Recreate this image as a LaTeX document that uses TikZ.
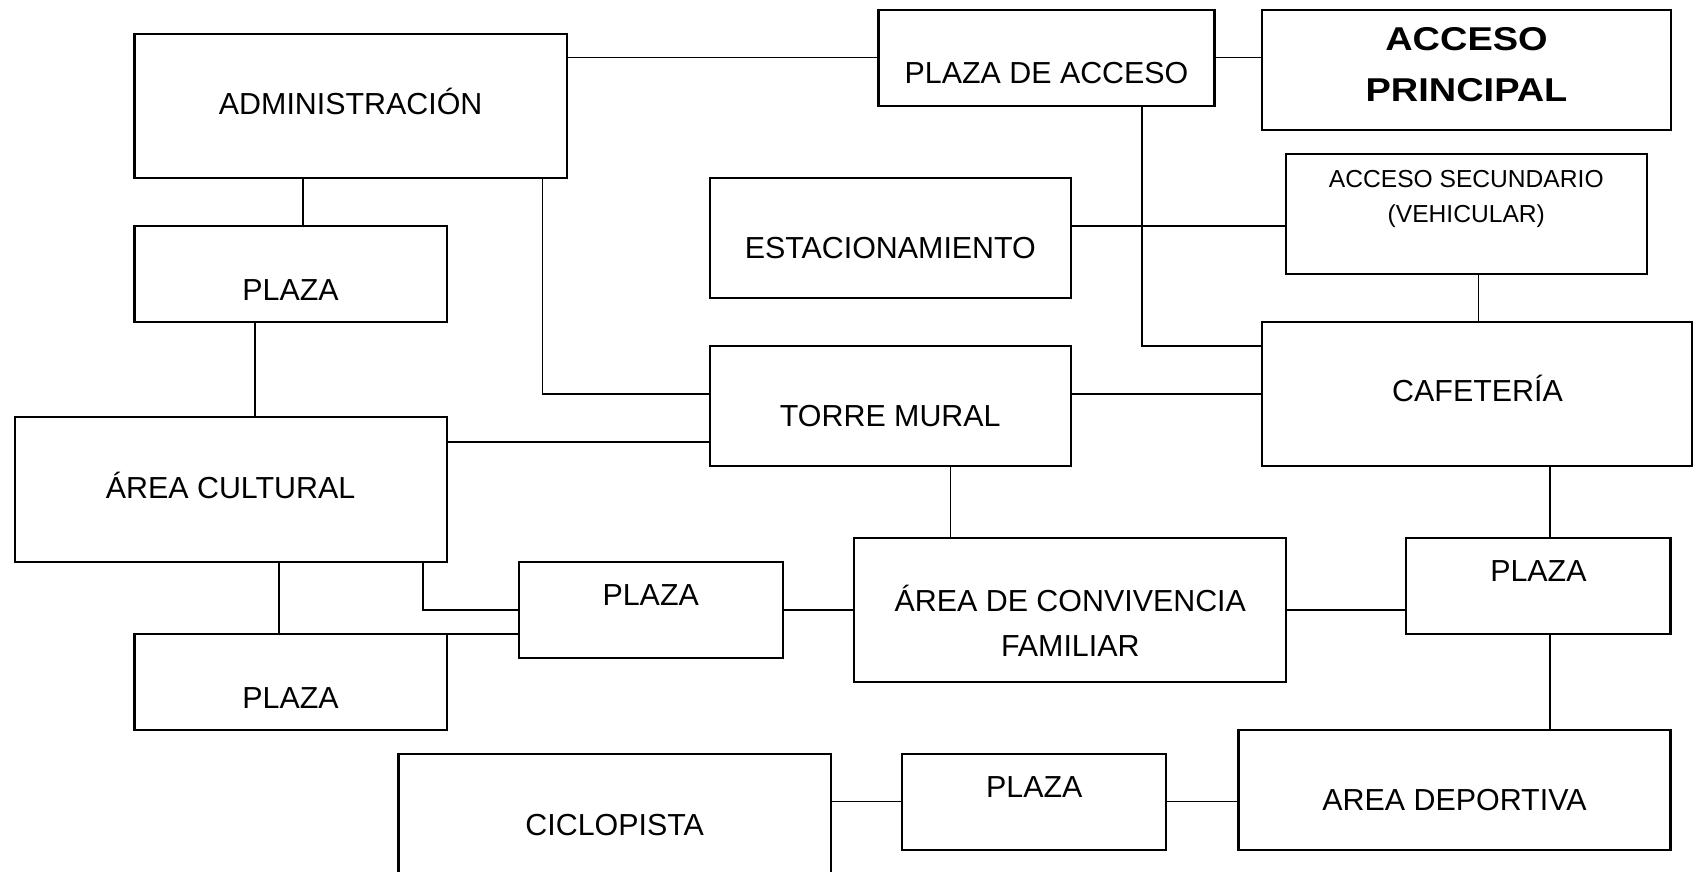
\documentclass[tikz,border=0pt]{standalone}
\usepackage{fontspec}
\setmainfont{Liberation Sans}
\usepackage{graphicx}
\tikzset{
 bx/.style={draw=black, line width=1.1pt, inner sep=0pt, outer sep=0pt},
 con/.style={draw=black, line width=0.8pt},
 txt/.style={anchor=base, inner sep=0pt, font=\fontsize{15.2}{18}\selectfont, text=black},
 txtsm/.style={txt, font=\fontsize{12.3}{15}\selectfont},
 txtbf/.style={txt, font=\fontsize{16.5}{20}\selectfont\bfseries},
}
\newcommand\mkbox[5]{\node[bx, minimum width={(#4-#2)*0.5pt}, minimum height={(#5-#3)*0.5pt}] (#1) at ({(#2+#4)/2},{(#3+#5)/2}) {};}
\begin{document}
\begin{tikzpicture}[x=0.5pt,y=-0.5pt]
\useasboundingbox (0,0) rectangle (1694,872);
\clip (0,0) rectangle (1694,872);
% boxes
\mkbox{adm}{134.5}{33.7}{567}{178}
\mkbox{pla1}{134.5}{225.7}{446.7}{322}
\mkbox{pacc}{878.5}{10}{1214.4}{106}
\mkbox{apri}{1262}{10}{1671}{130}
\mkbox{est}{710}{178}{1070.7}{297.7}
\mkbox{asec}{1285.8}{154}{1646.8}{274}
\mkbox{torre}{710}{346}{1070.7}{465.7}
\mkbox{cafe}{1262}{322}{1692}{465.7}
\mkbox{ac}{14.6}{417.3}{446.6}{562}
\mkbox{pla2}{518.7}{562}{782.6}{658}
\mkbox{acf}{854.3}{538}{1286.3}{682}
\mkbox{pla5}{1406.3}{538}{1670.5}{633.7}
\mkbox{pla3}{134.5}{633.7}{446.6}{730}
\mkbox{ciclo}{398.4}{753.7}{831}{900}
\mkbox{pla4}{902.2}{753.7}{1166.3}{850}
\mkbox{ad}{1238.4}{730}{1670.5}{850}
% texts
\node[txt] (t-adm) at (350.7,115) {ADMINISTRACIÓN};
\node[txt] (t-pla1) at (290.6,300) {PLAZA};
\node[txt] (t-pacc) at (1046.5,83.3) {PLAZA DE ACCESO};
\node[txtbf] (t-apri1) at (1466.5,50.7) {\scalebox{1.15}[1]{ACCESO}};
\node[txtbf] (t-apri2) at (1466.5,101.7) {\scalebox{1.15}[1]{PRINCIPAL}};
\node[txt] (t-est) at (890.3,258.3) {ESTACIONAMIENTO};
\node[txtsm] (t-asec1) at (1466.3,187.3) {ACCESO SECUNDARIO};
\node[txtsm] (t-asec2) at (1466.3,222.7) {(VEHICULAR)};
\node[txt] (t-torre) at (890.3,426.7) {TORRE MURAL};
\node[txt] (t-cafe) at (1477.5,401.7) {CAFETERÍA};
\node[txt] (t-ac) at (230.6,498.3) {ÁREA CULTURAL};
\node[txt] (t-pla2) at (650.7,605.7) {PLAZA};
\node[txt] (t-acf1) at (1070.3,611.7) {ÁREA DE CONVIVENCIA};
\node[txt] (t-acf2) at (1070.3,656) {FAMILIAR};
\node[txt] (t-pla5) at (1538.4,581.7) {PLAZA};
\node[txt] (t-pla3) at (290.6,708.3) {PLAZA};
\node[txt] (t-ciclo) at (614.7,835) {CICLOPISTA};
\node[txt] (t-pla4) at (1034.3,797.3) {PLAZA};
\node[txt] (t-ad) at (1454.5,810.7) {AREA DEPORTIVA};
% connectors
\draw[con] (adm.east |- 0,57.7) -- (pacc.west |- 0,57.7);
\draw[con] (pacc.east |- 0,57.7) -- (apri.west |- 0,57.7);
\draw[con] (adm.south -| 303,0) -- (pla1.north -| 303,0);
\draw[con] (pla1.south -| 254.8,0) -- (ac.north -| 254.8,0);
\draw[con] (adm.south -| 542.6,0) |- (torre.west |- 0,393.7);
\draw[con] (pacc.south -| 1142,0) |- (cafe.west |- 0,346);
\draw[con] (est.east |- 0,226) -- (asec.west |- 0,226);
\draw[con] (asec.south -| 1478.4,0) -- (cafe.north -| 1478.4,0);
\draw[con] (torre.east |- 0,393.7) -- (cafe.west |- 0,393.7);
\draw[con] (ac.east |- 0,441.7) -- (torre.west |- 0,441.7);
\draw[con] (torre.south -| 950.6,0) -- (acf.north -| 950.6,0);
\draw[con] (cafe.south -| 1550,0) -- (pla5.north -| 1550,0);
\draw[con] (ac.south -| 422.8,0) |- (pla2.west |- 0,610);
\draw[con] (ac.south -| 279,0) -- (pla3.north -| 279,0);
\draw[con] (pla3.north east) -- (pla2.west |- pla3.north east);
\draw[con] (pla2.east |- 0,610) -- (acf.west |- 0,610);
\draw[con] (acf.east |- 0,610) -- (pla5.west |- 0,610);
\draw[con] (pla5.south -| 1550,0) -- (ad.north -| 1550,0);
\draw[con] (ciclo.east |- 0,801.3) -- (pla4.west |- 0,801.3);
\draw[con] (pla4.east |- 0,801.3) -- (ad.west |- 0,801.3);
\end{tikzpicture}
\end{document}
